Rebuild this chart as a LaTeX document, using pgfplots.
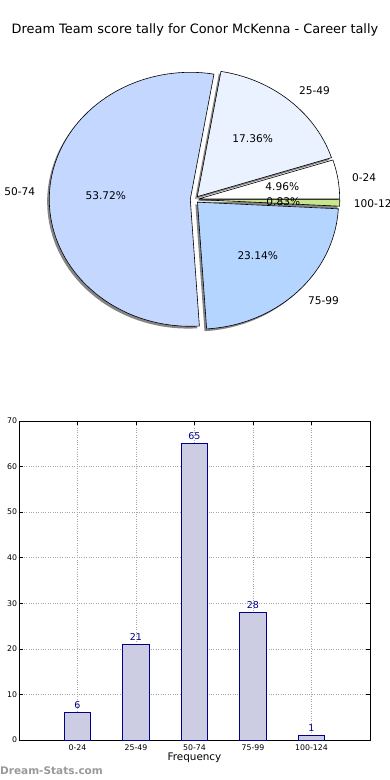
\documentclass[border=0pt]{standalone}
\usepackage{pgfplots}
\pgfplotsset{compat=1.18}
\usepackage{fontspec}
\setmainfont{DejaVu Sans}
\definecolor{cA}{RGB}{255,255,255}
\definecolor{cB}{RGB}{235,242,255}
\definecolor{cC}{RGB}{196,216,255}
\definecolor{cD}{RGB}{180,213,255}
\definecolor{cE}{RGB}{200,230,140}
\definecolor{barfill}{RGB}{204,204,226}
\definecolor{baredge}{RGB}{0,0,140}
% counts per score band
\def\nA{6}\def\nB{21}\def\nC{65}\def\nD{28}\def\nE{1}
\pgfmathsetmacro\tot{\nA+\nB+\nC+\nD+\nE}
\pgfmathsetmacro\aA{0}
\pgfmathsetmacro\aB{\aA+\nA/\tot*360}
\pgfmathsetmacro\aC{\aB+\nB/\tot*360}
\pgfmathsetmacro\aD{\aC+\nC/\tot*360}
\pgfmathsetmacro\aE{\aD+\nD/\tot*360}
\pgfmathsetmacro\aF{360}
\newcommand\pieshadow[2]{%
  \pgfmathsetmacro\md{(#1+#2)/2}%
  \pgfmathsetmacro\ox{0.03*cos(\md)-0.015}%
  \pgfmathsetmacro\oy{0.03*sin(\md)-0.018}%
  \edef\temp{\noexpand\addplot[fill=black!48, draw=none, domain=#1:#2, samples=80, variable=\noexpand\t] ({\ox+cos(\noexpand\t)},{\oy+sin(\noexpand\t)}) -- (axis cs:\ox,\oy) -- cycle;}%
  \temp}
\newcommand\pieslice[3]{%
  \pgfmathsetmacro\md{(#1+#2)/2}%
  \pgfmathsetmacro\ox{0.03*cos(\md)}%
  \pgfmathsetmacro\oy{0.03*sin(\md)}%
  \edef\temp{\noexpand\addplot[fill=#3, draw=black, line width=0.6pt, line join=miter, domain=#1:#2, samples=80, variable=\noexpand\t] ({\ox+cos(\noexpand\t)},{\oy+sin(\noexpand\t)}) -- (axis cs:\ox,\oy) -- cycle;}%
  \temp}
\newcommand\pielabel[4]{% start end label percent
  \pgfmathsetmacro\md{(#1+#2)/2}%
  \pgfmathsetmacro\lx{1.13*cos(\md)}%
  \pgfmathsetmacro\ly{1.13*sin(\md)}%
  \pgfmathsetmacro\px{0.63*cos(\md)}%
  \pgfmathsetmacro\py{0.63*sin(\md)}%
  \pgfmathsetmacro\lanch{cos(\md)<0 ? 1 : 0}%
  \ifdim\lanch pt>0.5pt
    \edef\temp{\noexpand\node[anchor=east, inner sep=0pt, font=\noexpand\fontsize{10.6}{12}\noexpand\selectfont] at (axis cs:\lx,\ly) {#3};}%
  \else
    \edef\temp{\noexpand\node[anchor=west, inner sep=0pt, font=\noexpand\fontsize{10.6}{12}\noexpand\selectfont] at (axis cs:\lx,\ly) {#3};}%
  \fi
  \temp
  \edef\temp{\noexpand\node[inner sep=0pt, font=\noexpand\fontsize{10.6}{12}\noexpand\selectfont] at (axis cs:\px,\py) {#4};}%
  \temp}
\begin{document}
\begin{tikzpicture}
\path[use as bounding box] (0pt,0pt) rectangle (390pt,-780pt);
\node[font=\fontsize{12.9}{15}\selectfont] at (195pt,-30pt) {Dream Team score tally for Conor McKenna - Career tally};
\begin{axis}[at={(194.5pt,-199.5pt)}, anchor=center, x=141pt, y=127pt,
  xmin=-1.3, xmax=1.3, ymin=-1.3, ymax=1.3, hide axis, clip=false]
\pieshadow{\aA}{\aB}
\pieshadow{\aB}{\aC}
\pieshadow{\aC}{\aD}
\pieshadow{\aD}{\aE}
\pieshadow{\aE}{\aF}
\pieslice{\aA}{\aB}{cA}
\pieslice{\aB}{\aC}{cB}
\pieslice{\aC}{\aD}{cC}
\pieslice{\aD}{\aE}{cD}
\pieslice{\aE}{\aF}{cE}
\pielabel{\aA}{\aB}{0-24}{4.96\%}
\pielabel{\aB}{\aC}{25-49}{17.36\%}
\pielabel{\aC}{\aD}{50-74}{53.72\%}
\pielabel{\aD}{\aE}{75-99}{23.14\%}
\pielabel{\aE}{\aF}{100-124}{0.83\%}
\end{axis}
\begin{axis}[at={(19pt,-740pt)}, anchor=south west, scale only axis,
  width=351pt, height=319pt,
  xmin=-1, xmax=5, ymin=0, ymax=70,
  xtick={0,1,2,3,4}, xticklabels={0-24,25-49,50-74,75-99,100-124},
  ytick={0,10,20,30,40,50,60,70},
  ybar, bar width=0.45,
  grid=major, grid style={dotted, line width=0.7pt, black!35},
  tick align=inside, major tick length=4pt,
  tick style={black, line width=0.5pt},
  axis line style={black, line width=0.8pt},
  ticklabel style={font=\fontsize{7.8}{9}\selectfont},
  /pgf/number format/assume math mode=true,
  xlabel={Frequency}, xlabel style={font=\fontsize{10.4}{12}\selectfont, yshift=4pt},
  nodes near coords,
  nodes near coords style={font=\fontsize{9.5}{11}\selectfont, color=baredge},
  xticklabel style={yshift=-1pt},
  yticklabel style={xshift=1.5pt}]
\addplot[fill=barfill, draw=baredge, line width=0.7pt] coordinates {(0,6) (1,21) (2,65) (3,28) (4,1)};
\end{axis}
\node[anchor=west, inner sep=0pt, font=\fontsize{10.5}{12}\selectfont\bfseries, text=black!40] at (0pt,-771pt) {Dream-Stats.com};
\end{tikzpicture}
\end{document}
